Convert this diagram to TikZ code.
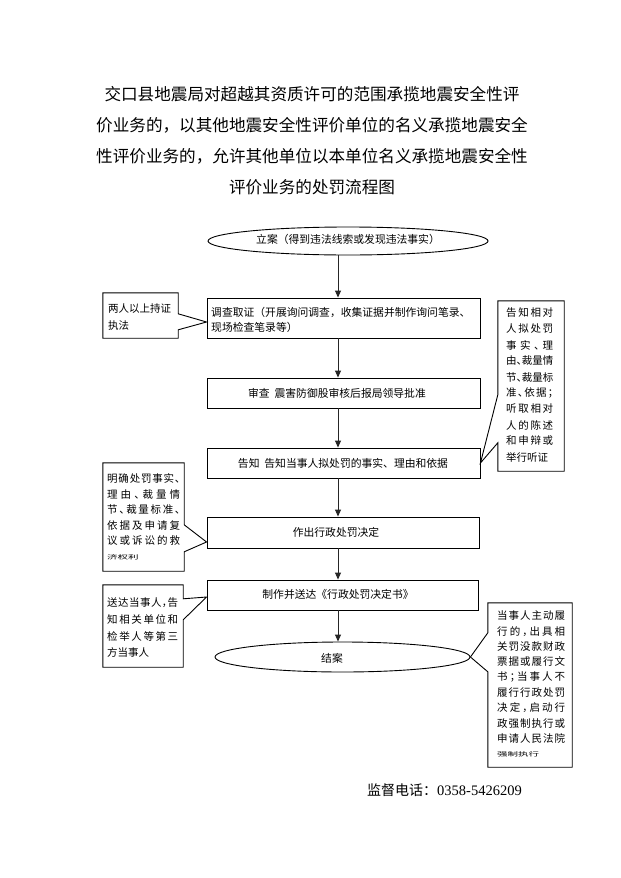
\documentclass[tikz,border=0pt]{standalone}
\usepackage{fontspec}
\usepackage{graphicx}
\setmainfont{Liberation Serif}
\newfontfamily\cjk{Noto Sans CJK SC}
\newfontfamily\cjkh[RawFeature=+halt]{Noto Sans CJK SC}
\usetikzlibrary{arrows.meta,shapes.geometric,calc}
\ExplSyntaxOn
\NewDocumentCommand\jl{mm}{\makebox[#1][s]{\exp_args:No\tl_map_inline:nn{#2}{##1\hfil}\unskip}}
\ExplSyntaxOff
\begin{document}
\begin{tikzpicture}[x=1pt,y=-1pt,
  fbox/.style={draw=black,line width=0.9pt,inner sep=0pt},
  oval/.style={ellipse,draw=black,line width=0.9pt,inner sep=0pt},
  cb/.style={draw=black,line width=0.9pt,line join=miter},
  arr/.style={draw=black!85,line width=0.9pt,-{Triangle[length=7pt,width=6pt]}},
  ttl/.style={inner sep=0pt,font=\cjk\fontsize{16.6}{20}\selectfont},
  bt/.style={inner sep=0pt,font=\cjk\fontsize{10.8}{13}\selectfont},
  ct/.style={inner sep=0pt,anchor=west,font=\cjkh\fontsize{10.5}{13}\selectfont},
  holder/.style={inner sep=0pt,draw=none}]
\path[use as bounding box,fill=white] (0,0) rectangle (621,878);

% title
\node[ttl] (ti1) at (312,94) {交口县地震局对超越其资质许可的范围承揽地震安全性评};
\node[ttl] (ti2) at (312,125) {价业务的，以其他地震安全性评价单位的名义承揽地震安全};
\node[ttl] (ti3) at (312,156) {性评价业务的，允许其他单位以本单位名义承揽地震安全性};
\node[ttl] (ti4) at (312,187) {评价业务的处罚流程图};

% main flow
\node[oval,minimum width=280pt,minimum height=28pt] (e1) at (348,241) {};
\node[bt] (e1t) at (348,239) {立案（得到违法线索或发现违法事实）};

\node[fbox,minimum width=273pt,minimum height=40pt] (b2) at (343.5,318) {};
\node[bt,anchor=west] (b2t1) at (211,312) {调查取证（开展询问调查，收集证据并制作询问笔录、};
\node[bt,anchor=west] (b2t2) at (211,327) {现场检查笔录等）};

\node[fbox,minimum width=273pt,minimum height=30pt] (b3) at (343.5,393) {};
\node[bt] (b3t) at (337,393) {审查\ \ 震害防御股审核后报局领导批准};

\node[fbox,minimum width=273pt,minimum height=30pt] (b4) at (343.5,463) {};
\node[bt] (b4t) at (343,463) {告知\ \ 告知当事人拟处罚的事实、理由和依据};

\node[fbox,minimum width=272pt,minimum height=31pt] (b5) at (343,532.5) {};
\node[bt] (b5t) at (336,532) {作出行政处罚决定};

\node[fbox,minimum width=271pt,minimum height=30pt] (b6) at (342.5,595) {};
\node[bt] (b6t) at (338,594) {制作并送达《行政处罚决定书》};

\node[oval,minimum width=255pt,minimum height=30pt] (e2) at (342.5,657) {};
\node[bt] (e2t) at (332,658) {结案};

\coordinate (ax) at (338,0);
\draw[arr] (e1.south -| ax) -- (b2.north -| ax);
\draw[arr] (b2.south -| ax) -- (b3.north -| ax);
\draw[arr] (b3.south -| ax) -- (b4.north -| ax);
\draw[arr] (b4.south -| ax) -- (b5.north -| ax);
\draw[arr] (b5.south -| ax) -- (b6.north -| ax);
\draw[arr] (b6.south -| ax) -- (e2.north -| ax);

% left callout 1
\node[holder,minimum width=75pt,minimum height=45pt] (c1) at (140.5,315.5) {};
\draw[cb] (c1.north west) -- (c1.north east) -- ($(c1.north east)+(0,21)$)
  -- ($(b2.west)+(0,4)$) -- ($(c1.north east)+(0,37)$) -- (c1.south east)
  -- (c1.south west) -- cycle;
\node[ct] (c1l1) at (108,309) {两人以上持证};
\node[ct] (c1l2) at (108,326) {执法};

% left callout 2
\node[holder,minimum width=81pt,minimum height=108pt] (c2) at (143.5,517) {};
\draw[cb] (c2.north west) -- (c2.north east) -- ($(c2.north east)+(0,62)$)
  -- ($(b5.west)+(0,9.5)$) -- ($(c2.north east)+(0,89)$) -- (c2.south east)
  -- (c2.south west) -- cycle;
\foreach \s [count=\i] in {明确处罚事实、,理由、裁量情,节、裁量标准、,依据及申请复,议或诉讼的救}
  \node[ct] (c2l\i) at (107,{479+15.5*(\i-1)}) {\jl{73pt}{\s}};
\node[ct] (c2l6) at (107,557) {\scalebox{1}[0.55]{济权利}};

% left callout 3
\node[holder,minimum width=80pt,minimum height=82pt] (c3) at (143,626) {};
\draw[cb] (c3.north west) -- (c3.north east) -- ($(c3.north east)+(0,14)$)
  -- ($(b6.west)+(0,2)$) -- ($(c3.north east)+(0,35)$) -- (c3.south east)
  -- (c3.south west) -- cycle;
\foreach \s [count=\i] in {送达当事人，告,知相关单位和,检举人等第三}
  \node[ct] (c3l\i) at (107,{603+16.5*(\i-1)}) {\jl{71pt}{\s}};
\node[ct] (c3l4) at (107,652.5) {方当事人};

% right callout 1
\node[holder,minimum width=66pt,minimum height=170pt] (r1) at (531,386) {};
\draw[cb] (r1.north east) -- (r1.north west) -- ($(r1.north west)+(0,94)$)
  -- (b4.east) -- ($(r1.north west)+(0,142)$) -- (r1.south west)
  -- (r1.south east) -- cycle;
\foreach \s [count=\i] in {告知相对,人拟处罚,事实、理,由、裁量情,节、裁量标,准、依据；,听取相对,人的陈述,和申辩或}
  \node[ct] (r1l\i) at (506,{313+16*(\i-1)}) {\jl{47pt}{\s}};
\node[ct] (r1l10) at (506,457) {举行听证};

% right callout 2
\node[holder,minimum width=84pt,minimum height=164pt] (r2) at (530,685) {};
\draw[cb] (r2.north east) -- (r2.north west) -- ($(r2.north west)+(0,30)$)
  -- (e2.east) -- ($(r2.north west)+(0,69)$) -- (r2.south west)
  -- (r2.south east) -- cycle;
\foreach \s [count=\i] in {当事人主动履,行的，出具相,关罚没款财政,票据或履行文,书；当事人不,履行行政处罚,决定，启动行,政强制执行或,申请人民法院}
  \node[ct] (r2l\i) at (497,{616+15.3*(\i-1)}) {\jl{68pt}{\s}};
\node[ct] (r2l10) at (497,754) {\scalebox{1}[0.55]{强制执行}};

% footer
\node[inner sep=0pt,anchor=west] (foot) at (367,790)
  {\cjk\fontsize{14}{16}\selectfont 监督电话：\fontsize{14.5}{16}\selectfont\rmfamily 0358-5426209};
\end{tikzpicture}
\end{document}
